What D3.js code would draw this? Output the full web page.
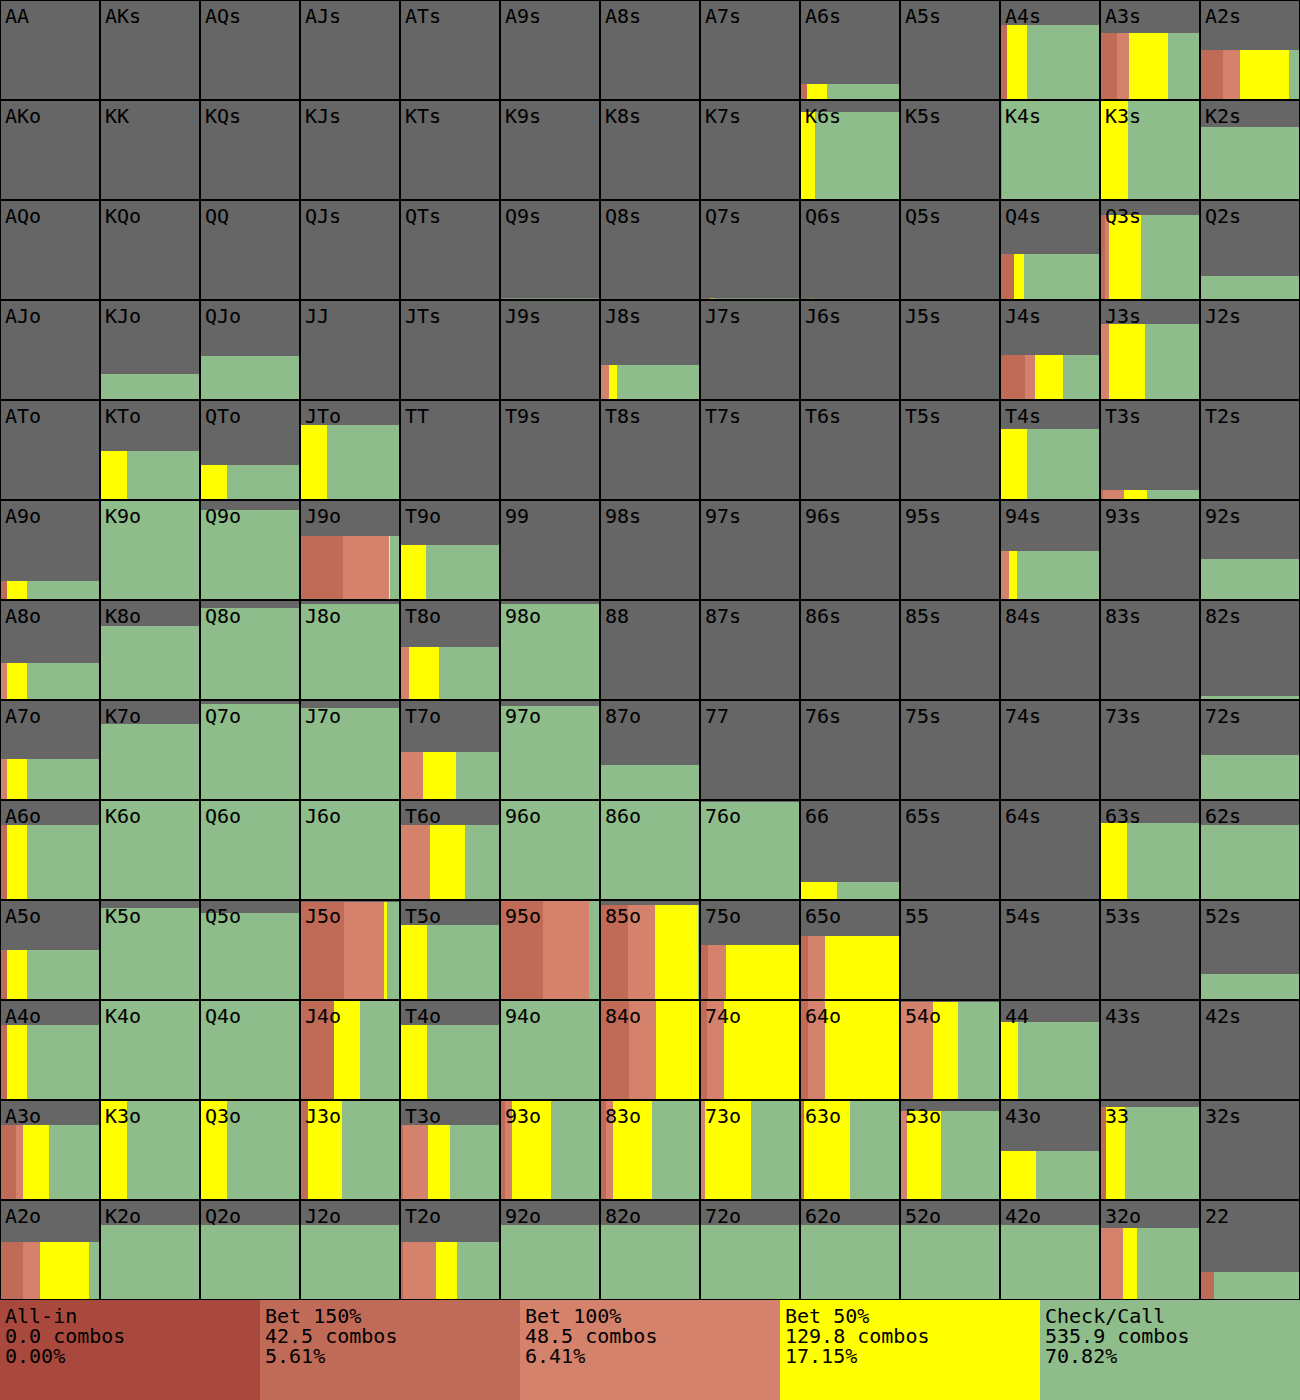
<!DOCTYPE html>
<html>
<head>
<meta charset="utf-8">
<script src="https://cdn.jsdelivr.net/npm/d3@7"></script>
<style>
  body { margin: 0; background: #fff; }
  svg { display: block; }
</style>
</head>
<body>
<div class="canvas"></div>
<script>
const ranks = ["A","K","Q","J","T","9","8","7","6","5","4","3","2"];

// legend: action names, combos, percent
const actions = ["All-in", "Bet 150%", "Bet 100%", "Bet 50%", "Check/Call"];
const combos = ["0.0", "42.5", "48.5", "129.8", "535.9"];
const percents = ["0.00%", "5.61%", "6.41%", "17.15%", "70.82%"];

// share of the hand that is in range (row = first rank, col = second rank)
const weight = [
  [0,0,0,0,0,0,0,0,0.16,0,0.75,0.67,0.5],
  [0,0,0,0,0,0,0,0,0.88,0,0.99,0.99,0.73],
  [0,0,0,0,0,0.015,0,0.015,0.012,0,0.46,0.85,0.24],
  [0,0.26,0.44,0,0,0,0.35,0,0,0,0.45,0.76,0],
  [0,0.49,0.35,0.75,0,0,0,0,0,0,0.71,0.10,0],
  [0.19,1,0.9,0.64,0.55,0,0,0,0,0,0.49,0,0.41],
  [0.37,0.74,0.92,0.96,0.53,0.96,0,0,0,0,0,0,0.04],
  [0.41,0.76,0.96,0.92,0.48,0.94,0.35,0,0,0,0,0,0.45],
  [0.75,1,1,1,0.75,1,1,0.98,0.18,0,0,0.77,0.75],
  [0.5,0.92,0.87,0.98,0.75,0.99,0.95,0.55,0.64,0,0,0,0.26],
  [0.75,1,1,1,0.75,1,1,1,1,0.98,0.78,0,0],
  [0.75,1,1,1,0.75,1,1,1,1,0.89,0.49,0.93,0],
  [0.58,0.75,0.75,0.75,0.58,0.75,0.75,0.75,0.75,0.75,0.75,0.72,0.28]
];

// action frequencies inside the hand (check/call is what is left)
const allin = weight.map(r => r.map(() => 0));

const bet150 = [
  [0,0,0,0,0,0,0,0,0.07,0,0.07,0.17,0.23],
  [0,0,0,0,0,0,0,0,0,0,0.015,0,0],
  [0,0,0,0,0,0,0,0.1,0.1,0,0.14,0.05,0],
  [0,0,0,0,0,0,0,0,0,0,0.25,0,0],
  [0,0,0,0,0,0,0,0,0,0,0,0.03,0],
  [0.07,0,0,0.43,0,0,0,0,0,0,0,0,0],
  [0,0,0,0,0,0,0,0,0,0,0,0,0],
  [0,0,0,0,0,0,0,0,0,0,0,0,0],
  [0.07,0,0,0,0,0,0,0,0,0,0,0,0],
  [0.07,0,0,0.44,0,0.43,0.28,0.08,0.08,0,0,0,0],
  [0.07,0,0,0.34,0,0,0.29,0.07,0.08,0,0,0,0],
  [0.16,0,0,0.08,0.03,0.05,0.06,0,0.04,0,0,0.06,0],
  [0.23,0,0,0,0.03,0,0,0,0,0,0,0,0.14]
];

const bet100 = [
  [0,0,0,0,0,0,0,0,0,0,0,0.12,0.17],
  [0,0,0,0,0,0,0,0,0,0,0,0,0],
  [0,0,0,0,0,0,0,0,0,0,0,0.04,0],
  [0,0,0,0,0,0,0.09,0,0,0,0.1,0.09,0],
  [0,0,0,0,0,0,0,0,0,0,0,0.21,0],
  [0,0,0,0.46,0,0,0,0,0,0,0.09,0,0],
  [0.07,0,0,0,0.09,0,0,0,0,0,0,0,0],
  [0.07,0,0,0,0.23,0,0,0,0,0,0,0,0],
  [0,0,0,0,0.3,0,0,0,0,0,0,0,0],
  [0,0,0,0.40,0,0.46,0.27,0.18,0.17,0,0,0,0],
  [0,0,0,0,0,0,0.27,0.17,0.17,0.33,0,0,0],
  [0.07,0,0,0,0.25,0.07,0.07,0.05,0,0.07,0,0,0],
  [0.17,0,0,0,0.33,0,0,0,0,0,0,0.23,0]
];

const bet50 = [
  [0,0,0,0,0,0,0,0,0.2,0,0.2,0.39,0.49],
  [0,0,0,0,0,0,0,0,0.15,0,0,0.28,0],
  [0,0,0,0,0,0,0,0.05,0.05,0,0.1,0.32,0],
  [0,0,0,0,0,0,0.08,0,0,0,0.28,0.36,0],
  [0,0.27,0.27,0.27,0,0,0,0,0,0,0.27,0.23,0],
  [0.2,0,0,0.01,0.26,0,0,0,0,0,0.08,0,0],
  [0.2,0,0,0,0.3,0,0,0,0,0,0,0,0],
  [0.2,0,0,0,0.33,0,0,0,0,0,0,0,0],
  [0.2,0,0,0,0.35,0,0,0,0.37,0,0,0.27,0],
  [0.2,0,0,0.03,0.27,0,0.43,0.74,0.75,0,0,0,0],
  [0.2,0,0,0.26,0.27,0,0.43,0.76,0.75,0.25,0.18,0,0],
  [0.26,0.27,0.27,0.34,0.22,0.39,0.39,0.46,0.46,0.34,0.36,0.19,0],
  [0.49,0,0,0,0.21,0,0,0,0,0,0,0.14,0]
];

const colors = ["#a9493d", "#c06a58", "#d4826c", "#ffff00", "#8fbc8b"];
const cellBg = "#666666";

const W = 1300, cell = 100;

const svg = d3.select(".canvas").append("svg")
  .attr("width", W)
  .attr("height", 1400)
  .style("font-family", "'DejaVu Sans Mono', monospace");

const x = d3.scaleBand().domain(d3.range(13)).range([0, W]);
const y = d3.scaleBand().domain(d3.range(13)).range([0, 13 * cell]);
const h = d3.scaleLinear().domain([0, 1]).range([0, cell]);
const w = d3.scaleLinear().domain([0, 1]).range([0, cell]);

const handName = (r, c) => {
  if (r == c) return ranks[r] + ranks[c];
  if (c > r) return ranks[r] + ranks[c] + "s";
  return ranks[c] + ranks[r] + "o";
};

let cells = [];
for (let r = 0; r < 13; r++) {
  for (let c = 0; c < 13; c++) {
    let f = [allin[r][c], bet150[r][c], bet100[r][c], bet50[r][c]];
    f.push(Math.max(0, 1 - d3.sum(f)));
    let acc = 0;
    const segs = f.map((v, i) => {
      const s = {start: acc, value: v, action: i};
      acc += v;
      return s;
    });
    cells.push({r, c, name: handName(r, c), weight: weight[r][c], segs});
  }
}

const g = svg.selectAll("g.cell")
  .data(cells)
  .enter().append("g")
  .attr("class", "cell")
  .attr("transform", d => `translate(${x(d.c)},${y(d.r)})`);

g.append("rect")
  .attr("width", x.bandwidth())
  .attr("height", y.bandwidth())
  .attr("fill", cellBg);

g.each(function(d) {
  if (d.weight <= 0) return;
  d3.select(this).selectAll("rect.seg")
    .data(d.segs.filter(s => s.value > 0))
    .enter().append("rect")
    .attr("class", "seg")
    .attr("x", s => w(s.start))
    .attr("width", s => w(s.value))
    .attr("y", cell - h(d.weight))
    .attr("height", h(d.weight))
    .attr("fill", s => colors[s.action]);
});

g.append("rect")
  .attr("x", 0.5)
  .attr("y", 0.5)
  .attr("width", x.bandwidth() - 1)
  .attr("height", y.bandwidth() - 1)
  .attr("fill", "none")
  .attr("stroke", "#000")
  .attr("stroke-width", 1);

g.append("text")
  .attr("x", 5)
  .attr("y", 23)
  .attr("font-size", 20)
  .attr("fill", "#000")
  .text(d => d.name);

// legend
const lx = d3.scaleBand().domain(d3.range(actions.length)).range([0, W]);
const leg = svg.selectAll("g.legend")
  .data(actions)
  .enter().append("g")
  .attr("class", "legend")
  .attr("transform", (d, i) => `translate(${lx(i)},${13 * cell})`);

leg.append("rect")
  .attr("width", lx.bandwidth())
  .attr("height", 100)
  .attr("fill", (d, i) => colors[i]);

leg.append("text")
  .attr("x", 5)
  .attr("font-size", 20)
  .attr("fill", "#000")
  .selectAll("tspan")
  .data((d, i) => [d, combos[i] + " combos", percents[i]])
  .enter().append("tspan")
  .attr("x", 5)
  .attr("y", (t, j) => 23 + j * 20)
  .text(t => t);
</script>
</body>
</html>
